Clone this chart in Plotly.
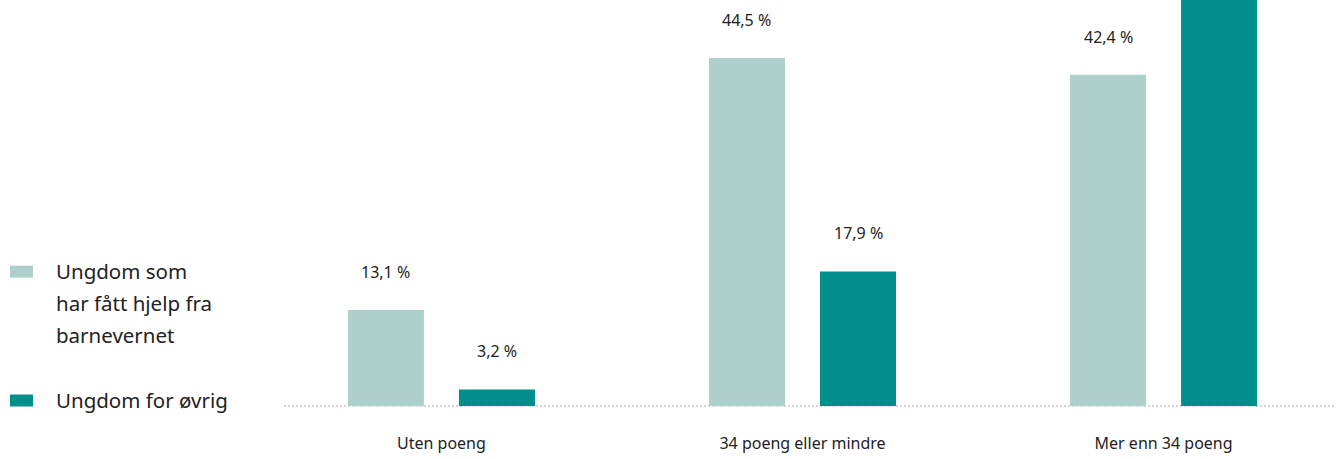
import plotly.graph_objects as go

# Data
categories = ["Uten poeng", "34 poeng eller mindre", "Mer enn 34 poeng"]
series_names = [
    ["Ungdom som", "har fått hjelp fra", "barnevernet"],
    ["Ungdom for øvrig"],
]
barnevern = [13.1, 44.5, 42.4]
ovrig = [3.2, 17.9, 78.9]

# Styling
colors = ["#aed0ca", "#008f8c"]
FONT = "Noto Sans, sans-serif"
TEXT = "#222222"
W, H = 1339, 459
L, R, T, B = 284, 5, 0, 52.5
plot_w = W - L - R
plot_h = H - T - B

bar_w = 0.2105
offsets = [-0.259, 0.0485]
y_range = [1.14, 51.71]

fig = go.Figure()
for vals, name, col, off in zip([barnevern, ovrig], series_names, colors, offsets):
    fig.add_trace(go.Bar(
        x=list(range(len(categories))), y=vals, name=" ".join(name),
        marker=dict(color=col, line=dict(width=0)),
        width=bar_w, offset=off, showlegend=False,
    ))
    for i, v in enumerate(vals):
        fig.add_annotation(
            x=i + off + bar_w / 2, y=v, xref="x", yref="y",
            text=f"{v:.1f}".replace(".", ",") + " %",
            showarrow=False, yshift=38, yanchor="middle",
            font=dict(family=FONT, size=16, color=TEXT),
        )

# Dotted baseline
fig.add_shape(type="line", xref="paper", yref="paper", x0=0, x1=1, y0=0, y1=0,
              line=dict(color="#c8c8c8", width=1.5, dash="2px,2px"), layer="below")

# Legend drawn as swatches + text
def px_x(px):
    return (px - L) / plot_w

def px_y(py):
    return (H - B - py) / plot_h

legend_swatch_y = [272, 401]
for name, col, sy in zip(series_names, colors, legend_swatch_y):
    fig.add_shape(type="rect", xref="paper", yref="paper",
                  x0=px_x(10), x1=px_x(33), y0=px_y(sy - 6), y1=px_y(sy + 6),
                  fillcolor=col, line=dict(width=0))
    for k, line in enumerate(name):
        fig.add_annotation(
            x=px_x(54), y=px_y(sy - 1 + 32 * k), xref="paper", yref="paper",
            text=line, showarrow=False, xanchor="left", yanchor="middle",
            font=dict(family=FONT, size=20.5, color=TEXT),
        )

fig.update_layout(
    width=W, height=H,
    margin=dict(l=L, r=R, t=T, b=B, pad=0),
    paper_bgcolor="white", plot_bgcolor="white",
    barmode="overlay",
    xaxis=dict(
        range=[-0.436, 2.472], tickmode="array",
        tickvals=list(range(len(categories))), ticktext=categories,
        showgrid=False, zeroline=False, showline=False, ticks="",
        ticklabelstandoff=26,
        tickfont=dict(family=FONT, size=16, color=TEXT),
    ),
    yaxis=dict(range=y_range, visible=False, showgrid=False, zeroline=False),
)

fig.write_html("out.html")
